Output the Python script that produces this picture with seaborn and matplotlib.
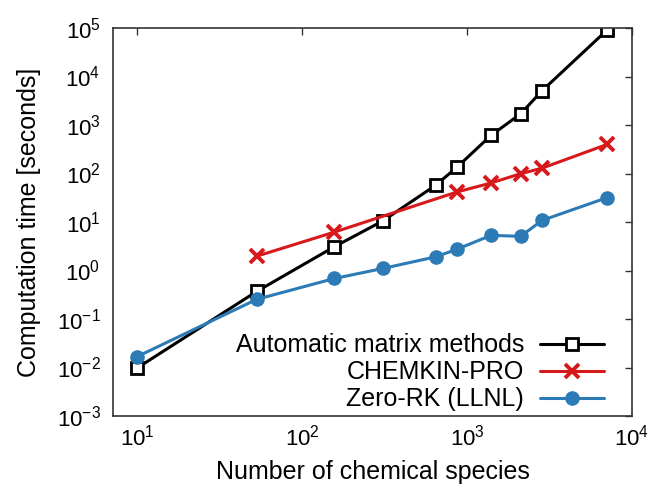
import matplotlib
matplotlib.use("Agg")
import matplotlib.pyplot as plt
import seaborn as sns
import numpy as np
import pandas as pd
from matplotlib.ticker import LogLocator, NullLocator

# Data
amm_species = [10, 53, 157, 308, 644, 869, 1396, 2113, 2851, 7064]
amm_time = [0.0098, 0.37, 3.1, 10.5, 57, 135, 610, 1700, 5100, 91000]

ck_species = [53, 157, 869, 1396, 2113, 2851, 7064]
ck_time = [1.97, 6.2, 41.6, 63.7, 99, 129, 398]

zrk_species = [10, 53, 157, 308, 644, 869, 1396, 2113, 2851, 7064]
zrk_time = [0.0168, 0.254, 0.685, 1.1, 1.91, 2.74, 5.3, 5.07, 10.8, 31.8]

labels = ["Automatic matrix methods", "CHEMKIN-PRO", "Zero-RK (LLNL)"]
colors = ["#000000", "#d7191c", "#2c7bb6"]

sns.set_style("white")
plt.rcParams["font.family"] = ["Liberation Sans", "DejaVu Sans"]
plt.rcParams["mathtext.fontset"] = "custom"
plt.rcParams["mathtext.rm"] = "Liberation Sans"
plt.rcParams["mathtext.it"] = "Liberation Sans:italic"
plt.rcParams["mathtext.bf"] = "Liberation Sans:bold"
plt.rcParams["text.color"] = "black"
plt.rcParams["axes.labelcolor"] = "black"

fig = plt.figure(figsize=(6.64, 4.92), dpi=100)
ax = fig.add_axes([113 / 664, 1 - 416 / 492, 519 / 664, 388 / 492])

df_amm = pd.DataFrame({"x": amm_species, "y": amm_time})
df_ck = pd.DataFrame({"x": ck_species, "y": ck_time})
df_zrk = pd.DataFrame({"x": zrk_species, "y": zrk_time})

sns.lineplot(data=df_amm, x="x", y="y", ax=ax, color=colors[0], lw=2.2,
             marker="s", ms=8.3, mfc="white", mec=colors[0], mew=2.0,
             label=labels[0], sort=False)
sns.lineplot(data=df_ck, x="x", y="y", ax=ax, color=colors[1], lw=2.2,
             marker="x", ms=10.5, mec=colors[1], mew=2.8,
             label=labels[1], sort=False)
sns.lineplot(data=df_zrk, x="x", y="y", ax=ax, color=colors[2], lw=2.2,
             marker="o", ms=10.5, mfc=colors[2], mec=colors[2], mew=0,
             label=labels[2], sort=False)

ax.set_xscale("log")
ax.set_yscale("log")
ax.set_xlim(7.13, 1e4)
ax.set_ylim(1e-3, 1e5)
ax.xaxis.set_major_locator(LogLocator(base=10, numticks=10))
ax.yaxis.set_major_locator(LogLocator(base=10, numticks=20))
ax.xaxis.set_minor_locator(NullLocator())
ax.yaxis.set_minor_locator(NullLocator())

ax.tick_params(axis="both", which="major", direction="in", top=True, right=True,
               length=5, width=1.0, colors="#333333", labelcolor="black",
               labelsize=16)
ax.tick_params(axis="x", pad=6)
ax.tick_params(axis="y", pad=9)
for s in ax.spines.values():
    s.set_visible(True)
    s.set_color("#333333")
    s.set_linewidth(1.2)

ax.set_xlabel("Number of chemical species", fontsize=18)
ax.set_ylabel("Computation time [seconds]", fontsize=18)
ax.xaxis.set_label_coords(0.5, (416 - 460) / 388)
ax.yaxis.set_label_coords((41 - 113) / 519, 0.5)

leg = ax.legend(loc="lower right", bbox_to_anchor=(0.946, 0.012), frameon=False,
                markerfirst=False, fontsize=18, handlelength=2.55,
                handletextpad=0.65, labelspacing=0.12, borderpad=0,
                borderaxespad=0)

fig.savefig("out.png", dpi=100)
